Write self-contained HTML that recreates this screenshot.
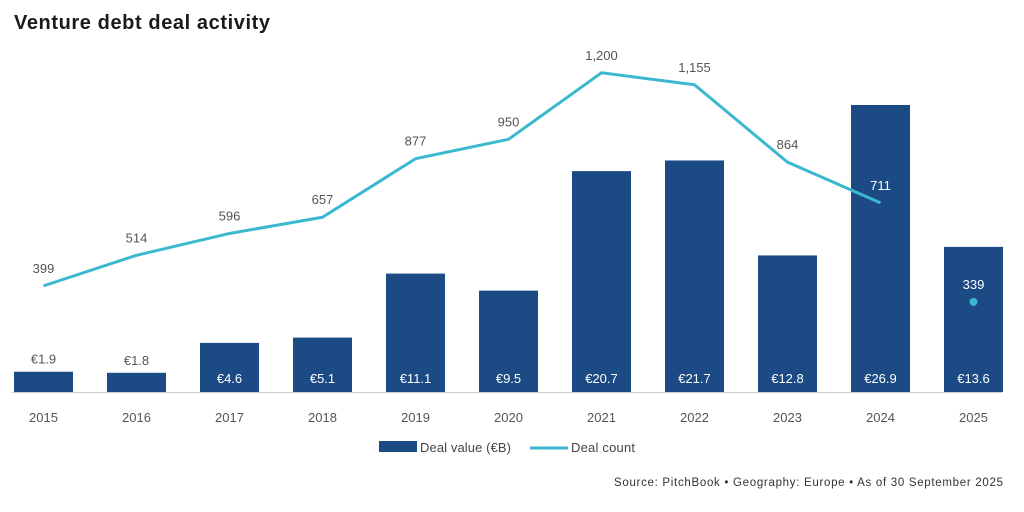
<!DOCTYPE html>
<html><head><meta charset="utf-8"><style>
body{margin:0;background:#fff;width:1024px;height:507px;overflow:hidden;font-family:"Liberation Sans",sans-serif}
svg text{font-family:"Liberation Sans",sans-serif}
</style></head><body>
<svg width="1024" height="507">
<text x="14" y="29" font-size="20" font-weight="bold" fill="#1a1a1a" textLength="256">Venture debt deal activity</text>
<g id="bars"></g><g id="line"></g><g id="labels"></g>
<line x1="12" x2="1002" y1="392.5" y2="392.5" stroke="#ccc"/>
<g>
<rect x="379" y="441" width="38" height="11" fill="#1c4a84"/>
<text x="420" y="452" font-size="13" fill="#444" textLength="91">Deal value (€B)</text>
<line x1="530" x2="568" y1="448" y2="448" stroke="#3bb8d0" stroke-width="3"/>
<text x="571" y="452" font-size="13" fill="#444" textLength="64">Deal count</text>
</g>
<text x="614" y="486" font-size="11.5" fill="#333" textLength="389">Source: PitchBook  •  Geography: Europe  •  As of 30 September 2025</text>
</svg>
<script>
const years=["2015","2016","2017","2018","2019","2020","2021","2022","2023","2024","2025"];
const values=[1.9,1.8,4.6,5.1,11.1,9.5,20.7,21.7,12.8,26.9,13.6];
const valueLabels=["€1.9","€1.8","€4.6","€5.1","€11.1","€9.5","€20.7","€21.7","€12.8","€26.9","€13.6"];
const counts=[399,514,596,657,877,950,1200,1155,864,711,339];
const countLabels=["399","514","596","657","877","950","1,200","1,155","864","711","339"];
const NS="http://www.w3.org/2000/svg";
const base=392;
function xc(i){return 43.5+i*93;}
function yv(v){return base-v*10.67;}
function yc(c){return base-c*0.266;}
function mk(t,a,p){const e=document.createElementNS(NS,t);for(const k in a)e.setAttribute(k,a[k]);document.getElementById(p).appendChild(e);return e;}
values.forEach((v,i)=>{
 const r=mk("rect",{x:xc(i)-29.5,y:yv(v),width:59,height:base-yv(v),fill:"#1c4a84"},"bars");
 
 
 const inside=v>3;
 const t=mk("text",{x:xc(i),y:inside?base-9:yv(v)-8,"text-anchor":"middle","font-size":"13",fill:inside?"#fff":"#555"},"labels");
 t.textContent=valueLabels[i];
 
 
 const y=mk("text",{x:xc(i),y:base+30,"text-anchor":"middle","font-size":"13",fill:"#555"},"labels");
 y.textContent=years[i];
 
 
});
const n=counts.length-1;
const pts=counts.slice(0,n).map((c,i)=>xc(i)+","+yc(c)).join(" ");
const pl=mk("polyline",{points:pts,fill:"none",stroke:"#3bb8d0","stroke-width":"3","stroke-linejoin":"round"},"line");


const dot=mk("circle",{cx:xc(n),cy:yc(counts[n]),r:4,fill:"#3bb8d0"},"line");


counts.forEach((c,i)=>{
 const onBar=yc(c)>yv(values[i]);
 const t=mk("text",{x:xc(i),y:yc(c)-13,"text-anchor":"middle","font-size":"13",fill:onBar?"#fff":"#555"},"labels");
 t.textContent=countLabels[i];
 
 
});
</script>
</body></html>
